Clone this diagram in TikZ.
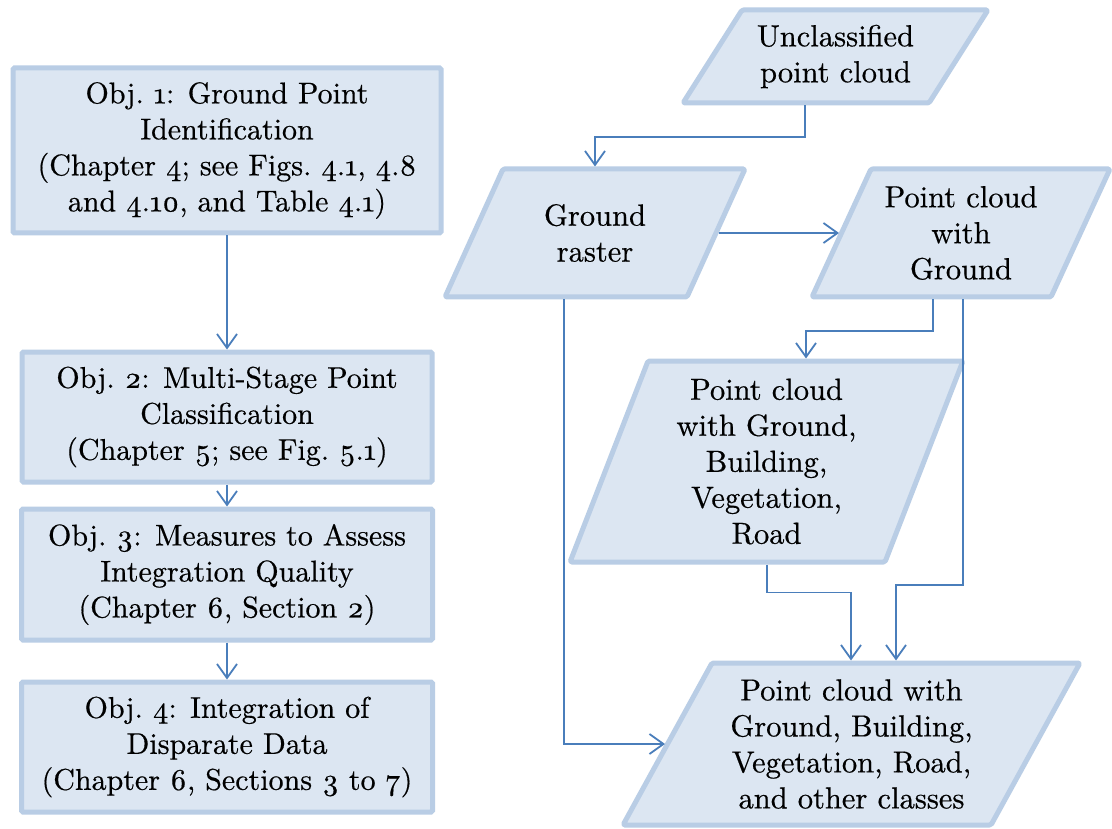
\documentclass[tikz,border=0pt]{standalone}
\usepackage{fontspec}
\setmainfont{lmroman10-regular.otf}[FakeBold=0.5]
\usetikzlibrary{arrows.meta}

\definecolor{boxfill}{HTML}{DCE6F2}
\definecolor{boxline}{HTML}{B9CDE5}
\definecolor{linkblue}{HTML}{4A7EBB}

% old-style figures, as in the body text
\newcommand\osn[1]{\oldstylenums{#1}}

% data parallelogram: name, cx, cy, side length, height, slant, text
\newcommand\dataShape[7]{%
  \path[databox] ({#2-#4/2-#6/2},{#3+#5/2}) -- ({#2-#4/2+#6/2},{#3-#5/2})
     -- ({#2+#4/2+#6/2},{#3-#5/2}) -- ({#2+#4/2-#6/2},{#3+#5/2}) -- cycle;
  \node[datatext, minimum width=#4pt, minimum height=#5pt] (#1) at (#2,#3) {#7};}

\tikzset{
  objbox/.style={draw=boxline, fill=boxfill, line width=5pt, rounded corners=1.5pt,
    align=center, inner sep=0pt, font=\fontsize{30}{36}\selectfont},
  databox/.style={draw=boxline, fill=boxfill, line width=5pt, line join=round,
    rounded corners=1.5pt},
  datatext/.style={rectangle, align=center, inner sep=0pt, outer sep=2.5pt,
    font=\fontsize{30.5}{36}\selectfont},
  link/.style={draw=linkblue, line width=1.8pt,
    -{Straight Barb[length=14pt,width=20pt]}},
}

\begin{document}
\begin{tikzpicture}[x=1pt, y=-1pt]
\fill[white] (0,0) rectangle (1112,829);
\useasboundingbox (0,0) rectangle (1112,829);

% objectives column
\node[objbox, minimum width=428pt, minimum height=165pt] (o1) at (227,150.5)
  {Obj.~\osn{1}: Ground Point\\ Identification\\
   (Chapter \osn{4}; see Figs.~\osn{4}.\osn{1}, \osn{4}.\osn{8}\\
   and \osn{4}.\osn{10}, and Table \osn{4}.\osn{1})};
\node[objbox, minimum width=410pt, minimum height=130pt] (o2) at (227,417)
  {Obj.~\osn{2}: Multi-Stage Point\\ Classification\\
   (Chapter \osn{5}; see Fig.~\osn{5}.\osn{1})};
\node[objbox, minimum width=411pt, minimum height=131pt] (o3) at (227,574.5)
  {Obj.~\osn{3}: Measures to Assess\\ Integration Quality\\
   (Chapter \osn{6}, Section \osn{2})};
\node[objbox, minimum width=411pt, minimum height=130pt] (o4) at (227,747)
  {Obj.~\osn{4}: Integration of\\ Disparate Data\\
   (Chapter \osn{6}, Sections \osn{3} to \osn{7})};

\draw[link] (o1.south) -- (o2.north);
\draw[link] (o2.south) -- (o3.north);
\draw[link] (o3.south) -- (o4.north);

% classification data flow
\dataShape{unc}{835.5}{56.5}{246}{93}{59}{Unclassified\\ point cloud}
\dataShape{gr}{595}{233}{242}{128}{58}{Ground\\ raster}
\dataShape{pcg}{961}{233}{239}{128}{59}{Point cloud\\ with\\ Ground}
\dataShape{pcgbvr}{766.5}{461.5}{315}{201}{78}{Point cloud\\ with Ground,\\ Building,\\ Vegetation,\\ Road}
\dataShape{final}{851.5}{744}{368}{162}{89}{Point cloud with\\ Ground, Building,\\ Vegetation, Road,\\ and other classes}

\draw[link] ([xshift=-30.5pt]unc.south) -- ++(0,31.5) -| (gr.north);
\draw[link] (gr.east) -- (pcg.west);
\draw[link] ([xshift=-28pt]pcg.south) -- ++(0,31.5) -| ([xshift=39.5pt]pcgbvr.north);
\draw[link] ([xshift=2pt]pcg.south) -- ++(0,285.5) -| ([xshift=44.5pt]final.north);
\draw[link] ([xshift=0.5pt]pcgbvr.south) -- ++(0,28) -| ([xshift=-0.5pt]final.north);
\draw[link] ([xshift=-31pt]gr.south) |- (final.west);
\end{tikzpicture}
\end{document}
